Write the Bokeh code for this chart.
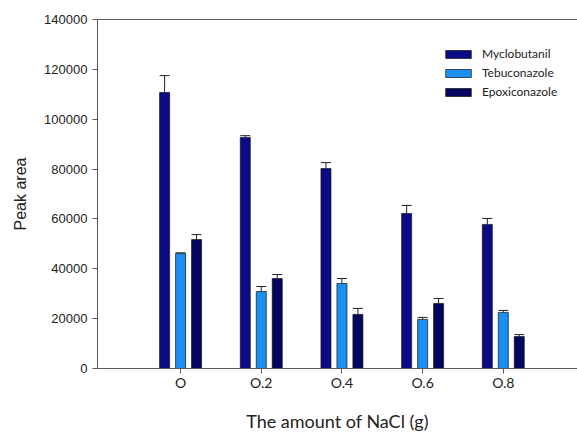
from bokeh.plotting import figure
from bokeh.models import (Range1d, FixedTicker, LinearAxis, Legend, LegendItem,
                          ColumnDataSource, Whisker, TeeHead, NumeralTickFormatter)
from bokeh.embed import file_html
from bokeh.resources import INLINE

# ---- data ----
categories = ["O", "O.2", "O.4", "O.6", "O.8"]
series = ["Myclobutanil", "Tebuconazole", "Epoxiconazole"]
myclobutanil = [110700, 92700, 80200, 62200, 57800]
myclobutanil_err = [6800, 700, 2400, 3200, 2400]
tebuconazole = [46100, 30900, 34100, 19700, 22500]
tebuconazole_err = [300, 2000, 2000, 800, 800]
epoxiconazole = [51700, 36100, 21700, 26100, 12800]
epoxiconazole_err = [2000, 1600, 2400, 2000, 800]
y_ticks = [0, 20000, 40000, 60000, 80000, 100000, 120000, 140000]

colors = ["#0B0B85", "#1A8FF5", "#05055E"]
offsets = [-0.198, 0.0, 0.198]
bar_w = 0.124

p = figure(frame_width=480, frame_height=349, output_backend="svg", toolbar_location=None,
           x_range=Range1d(-1.03, 4.92), y_range=Range1d(0, 140000))
p.min_border_left = 97
p.min_border_right = 0
p.min_border_top = 19
p.min_border_bottom = 60
p.outline_line_color = None
p.grid.visible = False
p.background_fill_color = "white"

axis_col = "#5a5a5a"
# x axis
xa = p.xaxis[0]
xa.ticker = FixedTicker(ticks=list(range(len(categories))))
xa.major_label_overrides = {i: c for i, c in enumerate(categories)}
xa.minor_tick_line_color = None
xa.major_tick_in = 0
xa.major_tick_out = 5
xa.axis_line_color = axis_col
xa.major_tick_line_color = axis_col
xa.major_label_text_font = "Lato"
xa.major_label_text_font_size = "14px"
xa.major_label_text_color = "#222222"
xa.major_label_standoff = 0
xa.axis_label = "The amount of NaCl (g)"
xa.axis_label_text_font = "Lato"
xa.axis_label_text_font_style = "normal"
xa.axis_label_text_font_size = "18px"
xa.axis_label_text_color = "#222222"
xa.axis_label_standoff = 16

ya = p.yaxis[0]
ya.ticker = FixedTicker(ticks=y_ticks)
ya.formatter = NumeralTickFormatter(format="0")
ya.minor_tick_line_color = None
ya.major_tick_in = 0
ya.major_tick_out = 5
ya.axis_line_color = axis_col
ya.major_tick_line_color = axis_col
ya.major_label_text_font = "Liberation Sans"
ya.major_label_text_font_size = "13px"
ya.major_label_text_color = "#222222"
ya.major_label_standoff = 5
ya.axis_label = "Peak area"
ya.axis_label_text_font = "Liberation Sans"
ya.axis_label_text_font_style = "normal"
ya.axis_label_text_font_size = "16px"
ya.axis_label_text_color = "#222222"
ya.axis_label_standoff = 12

top_axis = LinearAxis(ticker=FixedTicker(ticks=[]), major_label_text_font_size="0px",
                      axis_line_color=axis_col, major_tick_line_color=None,
                      minor_tick_line_color=None)
p.add_layout(top_axis, "above")

vals = [myclobutanil, tebuconazole, epoxiconazole]
errs = [myclobutanil_err, tebuconazole_err, epoxiconazole_err]
items = []
for k in range(3):
    xs = [i + offsets[k] for i in range(len(categories))]
    src = ColumnDataSource(dict(x=xs, top=vals[k],
                                up=[v + e for v, e in zip(vals[k], errs[k])]))
    w = Whisker(source=src, base="x", lower="top", upper="up",
                line_color="#222222", line_width=1,
                upper_head=TeeHead(size=10, line_color="#222222", line_width=1),
                lower_head=None)
    p.add_layout(w)
    r = p.vbar(x="x", top="top", width=bar_w, bottom=0, source=src,
               fill_color=colors[k], line_color="#111111", line_width=0.7)
    items.append(LegendItem(label=series[k], renderers=[r]))

legend = Legend(items=items, location=(345, 269), orientation="vertical",
                glyph_width=32, glyph_height=10, label_height=14, spacing=4,
                padding=0, margin=0, label_standoff=8,
                border_line_color=None, background_fill_alpha=0,
                label_text_font="Lato", label_text_font_size="12px",
                label_text_color="#222222")
p.add_layout(legend, "center")

open("out.html", "w").write(file_html(p, INLINE))
